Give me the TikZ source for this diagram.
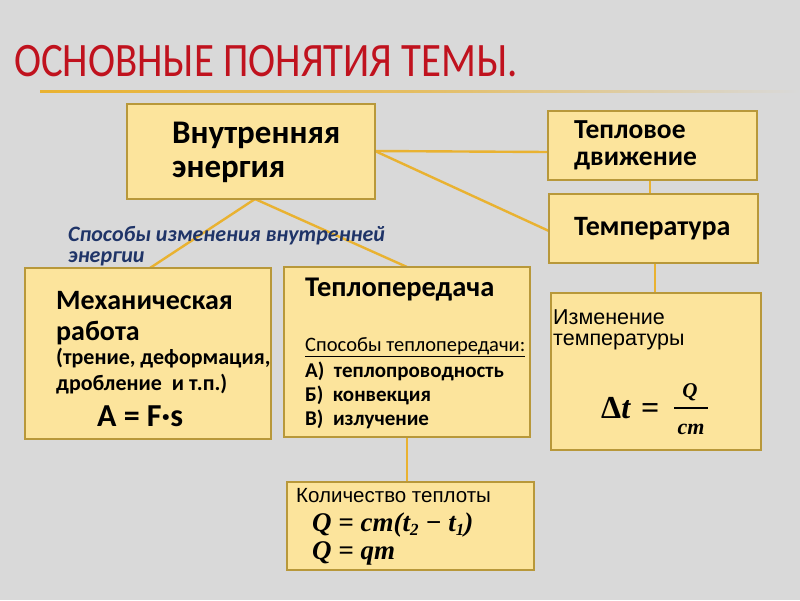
\documentclass[tikz,border=0pt]{standalone}
\usepackage{fontspec}
\setmainfont{Carlito}
\newfontfamily\arialf{Liberation Sans}
\newfontfamily\mathf{Liberation Serif}
\newfontfamily\titlef{Carlito}[FakeStretch=0.85]
\definecolor{bg}{HTML}{D9D9D9}
\definecolor{boxfill}{HTML}{FCE49C}
\definecolor{boxdraw}{HTML}{B8983A}
\definecolor{linkc}{HTML}{E9B231}
\definecolor{titlec}{HTML}{C0121E}
\definecolor{bluec}{HTML}{1F3468}
\newcommand\mysub[1]{\raisebox{-0.35ex}{\fontsize{17}{19}\selectfont #1}}
\tikzset{
  box/.style={draw=boxdraw, fill=boxfill, line width=1.6pt},
  link/.style={draw=linkc, line width=2.4pt},
  txt/.style={anchor=west, inner sep=0pt, align=left},
  frm/.style={inner sep=0pt, font=\mathf\bfseries\itshape\fontsize{27}{30}\selectfont},
}
\begin{document}
\begin{tikzpicture}[x=1pt,y=-1pt]
\fill[bg] (0,0) rectangle (800,600);
\useasboundingbox (0,0) rectangle (800,600);
% title
\node[txt, text=titlec, font=\titlef\fontsize{48}{52}\selectfont] (title) at (14,61) {ОСНОВНЫЕ ПОНЯТИЯ ТЕМЫ.};
\shade[left color=linkc, right color=bg, middle color=linkc!70!bg] (40,90.7) rectangle (800,92.3);
% connectors
\coordinate (ie) at (255,199);
\coordinate (ir) at (375,151);
\draw[link] (ie) -- (150,268);
\draw[link] (ie) -- (407,267);
\draw[link] (ir) -- (548,152);
\draw[link] (ir) -- (549,231);
\draw[link] (650,180) -- (650,194);
\draw[link] (655,263) -- (655,293);
\draw[link] (407,437) -- (407,482);
% boxes
\draw[box] (127,104) rectangle (375,199);
\draw[box] (548,111) rectangle (757,180);
\draw[box] (549,194) rectangle (758,263);
\draw[box] (25,268) rectangle (271,439);
\draw[box] (284,267) rectangle (530,437);
\draw[box] (551,293) rectangle (761,450);
\draw[box] (287,482) rectangle (534,570);
% texts
\node[txt, font=\bfseries\fontsize{33}{36}\selectfont] (ie1) at (172,135) {Внутренняя};
\node[txt, font=\bfseries\fontsize{33}{36}\selectfont] (ie2) at (172,172) {энергия};
\node[txt, font=\bfseries\fontsize{27.5}{30}\selectfont] (td1) at (574,130) {Тепловое};
\node[txt, font=\bfseries\fontsize{27.5}{30}\selectfont] (td2) at (574,161) {движение};
\node[txt, font=\bfseries\fontsize{28}{30}\selectfont] (tp) at (574,229) {Температура};
\node[txt, text=bluec, font=\itshape\bfseries\fontsize{22}{24}\selectfont] (sp1) at (68,236) {Способы изменения внутренней};
\node[txt, text=bluec, font=\itshape\bfseries\fontsize{22}{24}\selectfont] (sp2) at (68,258.5) {энергии};
\node[txt, font=\bfseries\fontsize{28}{30}\selectfont] (mr1) at (56,301) {Механическая};
\node[txt, font=\bfseries\fontsize{28}{30}\selectfont] (mr2) at (56,333) {работа};
\node[txt, font=\bfseries\fontsize{22}{24}\selectfont] (mr3) at (56,358) {(трение, деформация,};
\node[txt, font=\bfseries\fontsize{22}{24}\selectfont] (mr4) at (56,384) {дробление\ \ и т.п.)};
\node[txt, font=\bfseries\fontsize{32}{34}\selectfont] (mr5) at (97,416) {A = F·s};
\node[txt, font=\bfseries\fontsize{28.5}{30}\selectfont] (hp) at (305,290) {Теплопередача};
\node[txt, font=\fontsize{20.5}{22}\selectfont] (hp1) at (305,347) {\underline{Способы теплопередачи:}};
\node[txt, font=\bfseries\fontsize{21}{23}\selectfont] (hp2) at (305,371) {А)\ \ теплопроводность};
\node[txt, font=\bfseries\fontsize{21}{23}\selectfont] (hp3) at (305,395) {Б)\ \ конвекция};
\node[txt, font=\bfseries\fontsize{21}{23}\selectfont] (hp4) at (305,419) {В)\ \ излучение};
\node[txt, font=\arialf\fontsize{21.5}{23}\selectfont] (it1) at (553,317) {Изменение};
\node[txt, font=\arialf\fontsize{21.5}{23}\selectfont] (it2) at (553,342) {температуры};
\node[frm, anchor=west, font=\mathf\bfseries\itshape\fontsize{32}{34}\selectfont] (dt) at (601,408) {{\upshape Δ}t\,\,=};
\node[frm, font=\mathf\bfseries\itshape\fontsize{21}{23}\selectfont] (fnum) at (690,392) {Q};
\node[frm, font=\mathf\bfseries\itshape\fontsize{22}{24}\selectfont] (fden) at (691,429) {cm};
\draw[line width=1.3pt] (674,408) -- (708,408);
\node[txt, font=\arialf\fontsize{20.5}{22}\selectfont] (q1) at (296,496) {Количество теплоты};
\node[frm, anchor=west] (q2) at (312,525) {Q = cm(t\mysub{2} − t\mysub{1})};
\node[frm, anchor=west] (q3) at (312,553) {Q = qm};
\end{tikzpicture}
\end{document}
